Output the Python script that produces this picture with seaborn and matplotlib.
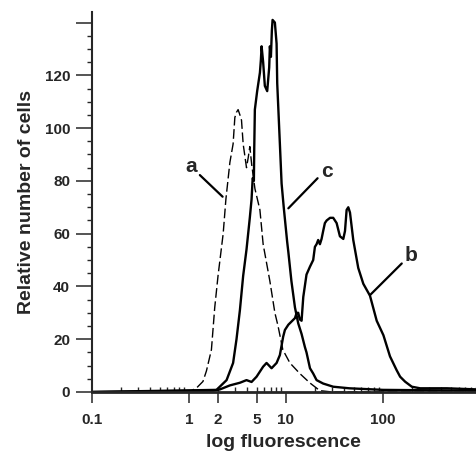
import matplotlib

matplotlib.use("Agg")
import matplotlib.pyplot as plt
import numpy as np
import pandas as pd
import seaborn as sns
from matplotlib.ticker import LogLocator, MultipleLocator, NullFormatter

# histogram traces (fluorescence, relative cell count)
fl_a = [0.1, 1.0, 1.2, 1.4, 1.52, 1.71, 1.85, 2.0, 2.26, 2.41, 2.65, 2.86, 2.98, 3.1,
        3.22, 3.36, 3.49, 3.63, 3.93, 4.1, 4.25, 4.45, 4.8, 5.4, 5.83, 6.84, 7.7, 8.3,
        9.3, 11.0, 13.9, 17.7, 22.4, 30.0, 900.0]
cnt_a = [0, 0, 1.5, 4, 8, 16, 32, 44, 60, 73, 87, 94, 104, 106,
         107, 105, 103, 94, 85, 89, 93, 86, 77, 69, 56, 42, 30, 25,
         16, 11, 7, 3.4, 0.5, 0, 0]

fl_b = [0.1, 1.78, 2.1, 2.65, 3.36, 3.93, 4.43, 4.99, 5.83, 6.32, 7.12, 8.02, 8.67,
        9.38, 9.77, 10.6, 12.4, 12.9, 13.4, 13.9, 14.5, 15.1, 16.3, 17.7, 19.1, 19.9,
        20.7, 21.5, 22.4, 23.3, 24.2, 25.2, 26.3, 28.5, 30.7, 33.3, 36.0, 39.0, 40.6,
        42.2, 43.9, 45.7, 49.4, 55.6, 62.7, 73.4, 86.1, 101, 118, 138, 150, 169, 198,
        241, 454, 900]
cnt_b = [0, 0.5, 1, 2.5, 3.5, 4.5, 3.8, 5.8, 9.6, 11, 9, 11, 14,
         21, 23.5, 25.5, 28, 30, 30, 27.5, 27, 36, 44.5, 47.5, 50, 55,
         56, 57.6, 56, 58, 61, 64, 65, 66, 66, 64, 59, 58, 61,
         69, 70, 68, 57.6, 47, 41, 36.5, 27, 21.5, 13.5, 8.3, 5.8, 3.9, 2,
         1.4, 1.4, 1]

fl_c = [0.1, 1.93, 2.45, 2.86, 3.1, 3.36, 3.63, 3.93, 4.25, 4.43, 4.55, 4.68, 4.72,
        4.79, 5.06, 5.4, 5.53, 5.62, 5.83, 6.07, 6.42, 6.73, 6.84, 7.01, 7.17, 7.29,
        7.7, 8.02, 8.14, 8.67, 9.03, 9.5, 10.3, 10.6, 11.4, 12.4, 13.4, 14.5, 15.7,
        16.3, 17.7, 19.1, 20.7, 24.2, 30.7, 45.0, 100, 900]
cnt_c = [0, 0.8, 4.5, 11, 20, 31, 44, 54, 66, 73, 81, 80, 92,
         107, 114, 121, 126, 131, 125, 116, 114, 123, 131, 127, 137, 141,
         140, 132, 117, 94, 79, 70, 57, 53, 42, 32, 26, 22, 17,
         15, 9, 7, 4.5, 3.2, 2, 1.4, 0.8, 0.5]

x_ticks = [0.1, 1, 2, 5, 10, 100]
x_labels = ["0.1", "1", "2", "5", "10", "100"]
y_ticks = [0, 20, 40, 60, 80, 100, 120, 140]
y_labels = ["0", "20", "40", "60", "80", "100", "120", ""]

# curve labels: letter position, leader line start, leader line end
labels = {
    "a": ((1.05, 85.6), (1.30, 82.2), (2.23, 74.0)),
    "b": ((194, 51.9), (156, 48.7), (73.4, 36.7)),
    "c": ((26.3, 83.7), (21.2, 81.0), (10.6, 69.6)),
}

sns.set_style("ticks")
plt.rcParams["font.family"] = ["Liberation Sans", "DejaVu Sans"]
plt.rcParams["font.weight"] = "bold"
plt.rcParams["axes.labelweight"] = "bold"

fig = plt.figure(figsize=(4.76, 4.61), dpi=100)
ax = fig.add_axes([0.1926, 0.1497, 0.8074, 0.8243])

df_a = pd.DataFrame({"fl": fl_a, "n": cnt_a})
df_b = pd.DataFrame({"fl": fl_b, "n": cnt_b})
df_c = pd.DataFrame({"fl": fl_c, "n": cnt_c})

sns.lineplot(data=df_a, x="fl", y="n", ax=ax, color="black", lw=1.0,
             linestyle=(0, (7, 2.6)), errorbar=None)
sns.lineplot(data=df_b, x="fl", y="n", ax=ax, color="black", lw=1.7, errorbar=None)
sns.lineplot(data=df_c, x="fl", y="n", ax=ax, color="black", lw=1.7, errorbar=None)

ax.set_xscale("log")
ax.set_xlim(0.1, 907)
ax.set_ylim(0, 144)

ax.set_xticks(x_ticks)
ax.set_xticklabels(x_labels)
ax.xaxis.set_minor_locator(LogLocator(base=10, subs=np.arange(2, 10), numticks=20))
ax.xaxis.set_minor_formatter(NullFormatter())
ax.xaxis.remove_overlapping_locs = False
ax.set_yticks(y_ticks)
ax.set_yticklabels(y_labels)
ax.yaxis.set_minor_locator(MultipleLocator(5))

ax.tick_params(axis="x", which="major", direction="out", length=8, width=1.1,
               labelsize=11, pad=7)
ax.tick_params(axis="x", which="minor", direction="in", length=3.5, width=1.0)
ax.tick_params(axis="y", which="major", direction="out", length=11.5, width=1.1,
               labelsize=11, pad=4)
ax.tick_params(axis="y", which="minor", direction="out", length=3.5, width=1.0)

for side in ["top", "right"]:
    ax.spines[side].set_visible(False)
ax.spines["left"].set_linewidth(1.5)
ax.spines["bottom"].set_linewidth(2.0)

ax.set_xlabel("log fluorescence", fontsize=14, labelpad=5)
ax.set_ylabel("Relative number of cells", fontsize=14, labelpad=7)

for name, (txt, start, end) in labels.items():
    ax.text(txt[0], txt[1], name, fontsize=15, ha="center", va="center")
    ax.annotate("", xy=end, xytext=start,
                arrowprops=dict(arrowstyle="-", lw=1.6, color="black",
                                shrinkA=0, shrinkB=0))

fig.savefig("out.png", dpi=100)
plt.close(fig)
